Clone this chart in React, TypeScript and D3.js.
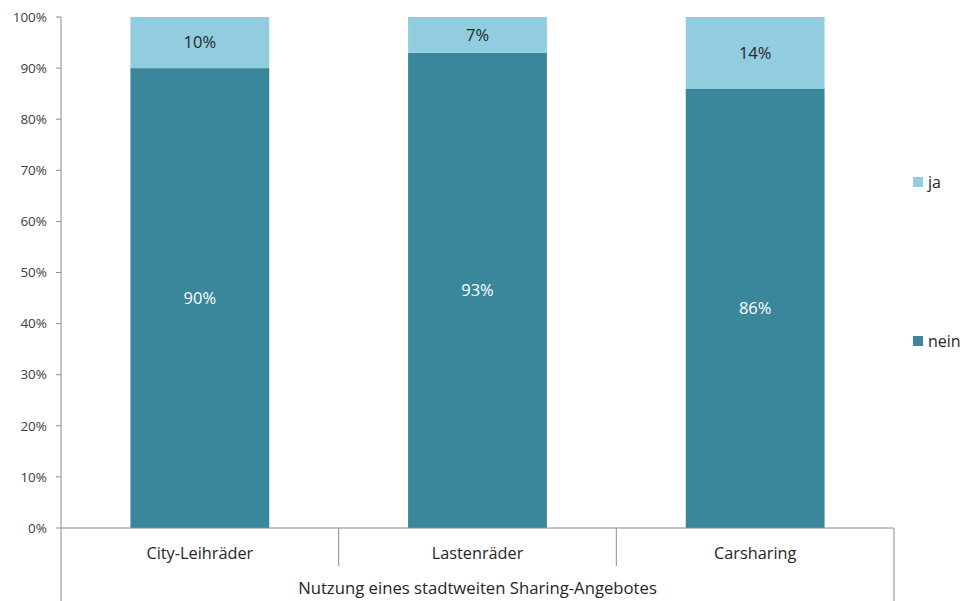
import React from "react";
import * as d3 from "d3";

// Nutzung eines stadtweiten Sharing-Angebotes (Anteile in %)
const categories = ["City-Leihräder", "Lastenräder", "Carsharing"];
const neinValues = [90, 93, 86];
const jaValues = [10, 7, 14];
const seriesNames = ["nein", "ja"];
const yTicks = [0, 10, 20, 30, 40, 50, 60, 70, 80, 90, 100];
const groupTitle = "Nutzung eines stadtweiten Sharing-Angebotes";

const W = 963;
const H = 601;
const left = 61;
const right = 894;
const top = 17;
const bottom = 528;

const colors: Record<string, string> = { nein: "#3A879C", ja: "#92CDDF" };
const axisColor = "#8C8C8C";
const font = "'Open Sans', Lato, sans-serif";

export default function App() {
  const x = d3
    .scaleBand<string>()
    .domain(categories)
    .range([left, right])
    .paddingInner(0.5)
    .paddingOuter(0.25);
  const y = d3.scaleLinear().domain([0, 100]).range([bottom, top]);

  const rows = categories.map((c, i) => ({ cat: c, nein: neinValues[i], ja: jaValues[i] }));
  const stacked = d3.stack<any>().keys(seriesNames)(rows);
  const step = x.step();

  return (
    <svg
      width={W}
      height={H}
      style={{ position: "absolute", left: 0, top: 0, background: "#fff" }}
      fontFamily={font}
    >
      {/* stacked bars */}
      {stacked.map((s) =>
        s.map((d, i) => {
          const x0 = x(categories[i])!;
          const bw = x.bandwidth();
          const y1 = y(d[1]);
          const y0 = y(d[0]);
          const value = d[1] - d[0];
          return (
            <g key={s.key + i}>
              <rect x={x0} y={y1} width={bw} height={y0 - y1} fill={colors[s.key]} />
              <text
                x={x0 + bw / 2}
                y={(y0 + y1) / 2}
                dy="0.35em"
                textAnchor="middle"
                fontSize={16.5}
                fill={s.key === "nein" ? "#ffffff" : "#262626"}
              >
                {`${value}%`}
              </text>
            </g>
          );
        })
      )}

      {/* y axis */}
      <line x1={left} x2={left} y1={top} y2={H} stroke={axisColor} strokeWidth={1} />
      {yTicks.map((t) => (
        <g key={t}>
          <line x1={left - 5} x2={left} y1={y(t)} y2={y(t)} stroke={axisColor} />
          <text
            x={left - 14}
            y={y(t)}
            dy="0.35em"
            textAnchor="end"
            fontSize={13.5}
            fill="#404040"
          >
            {`${t}%`}
          </text>
        </g>
      ))}

      {/* x axis with category dividers */}
      <line x1={left} x2={right} y1={bottom} y2={bottom} stroke={axisColor} />
      {categories.map((c, i) => {
        const bx = left + (i + 1) * step;
        const last = i === categories.length - 1;
        return (
          <g key={c}>
            <line x1={bx} x2={bx} y1={bottom} y2={last ? H : 566} stroke={axisColor} />
            <text
              x={x(c)! + x.bandwidth() / 2}
              y={553}
              dy="0.35em"
              textAnchor="middle"
              fontSize={16.3}
              fill="#262626"
            >
              {c}
            </text>
          </g>
        );
      })}
      <text x={(left + right) / 2} y={588} dy="0.35em" textAnchor="middle" fontSize={16.7} fill="#262626">
        {groupTitle}
      </text>

      {/* legend */}
      {[
        { key: "ja", cy: 182 },
        { key: "nein", cy: 341 },
      ].map((l) => (
        <g key={l.key}>
          <rect x={913} y={l.cy - 5} width={10} height={10} fill={colors[l.key]} />
          <text x={928} y={l.cy} dy="0.35em" fontSize={16} fill="#262626">
            {l.key}
          </text>
        </g>
      ))}
    </svg>
  );
}
